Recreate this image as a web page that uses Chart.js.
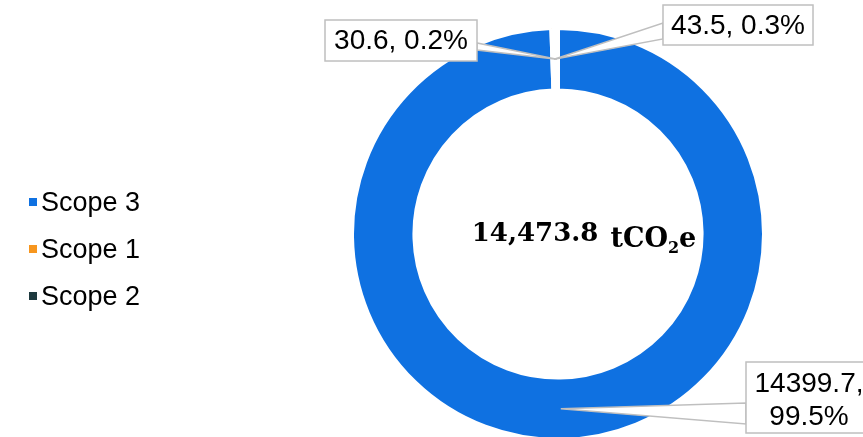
<!DOCTYPE html>
<html>
<head>
<meta charset="utf-8">
<script src="https://cdn.jsdelivr.net/npm/chart.js@4"></script>
<style>
html, body { margin: 0; padding: 0; background: #fff; overflow: hidden; }
#contenedor { position: relative; width: 863px; height: 437px; overflow: hidden; }
#lienzo { position: absolute; left: 0; top: 0; width: 863px; height: 442px; }
#leyenda { position: absolute; left: 0; top: 0; font-family: 'Liberation Sans', Arial, sans-serif; font-size: 27px; color: #000; }
.item { position: absolute; left: 29px; height: 30px; line-height: 30px; display: flex; align-items: center; white-space: nowrap; }
.item .cuadro { width: 8px; height: 8px; margin-right: 4px; }
</style>
</head>
<body>
<div id="contenedor">
  <div id="lienzo"><canvas id="grafico_Emisiones"></canvas></div>
  <div id="leyenda"></div>
</div>
<script>
// Datos de emisiones (tCO2e)
const categorias = ['Scope 3', 'Scope 1', 'Scope 2'];
const valores = [14399.7, 43.5, 30.6];
const colores = ['#0F71E1', '#F7961E', '#1E3A3F'];

// Cajas de las etiquetas y el borde donde llega la línea guía
const cajasEtiqueta = [
    {x: 746, y: 362, w: 126, h: 71, bordeX: 746, y1: 403, y2: 424},
    {x: 663, y: 5, w: 150, h: 40, bordeX: 663, y1: 23, y2: 39},
    {x: 325, y: 20, w: 152, h: 41, bordeX: 477, y1: 43, y2: 50}
];

const total = valores.reduce((a, b) => a + b, 0);

// Leyenda en HTML
const leyenda = document.getElementById('leyenda');
const centrosLeyenda = [202, 249, 296];
categorias.forEach((cat, i) => {
    const item = document.createElement('div');
    item.className = 'item';
    item.style.top = (centrosLeyenda[i] - 15) + 'px';
    const cuadro = document.createElement('span');
    cuadro.className = 'cuadro';
    cuadro.style.background = colores[i];
    item.appendChild(cuadro);
    item.appendChild(document.createTextNode(cat));
    leyenda.appendChild(item);
});

// Plugin: etiquetas con línea guía y texto central
const etiquetasPlugin = {
    id: 'etiquetas',
    afterDraw(chart) {
        const ctx = chart.ctx;
        const arcos = chart.getDatasetMeta(0).data;
        ctx.save();
        arcos.forEach((arco, i) => {
            const p = arco.tooltipPosition();
            const c = cajasEtiqueta[i];
            // línea guía en forma de cuña
            ctx.beginPath();
            ctx.moveTo(p.x, p.y);
            ctx.lineTo(c.bordeX, c.y1);
            ctx.lineTo(c.bordeX, c.y2);
            ctx.closePath();
            ctx.fillStyle = '#fff';
            ctx.fill();
            ctx.strokeStyle = '#BFBFBF';
            ctx.lineWidth = 1.5;
            ctx.stroke();
            // caja
            ctx.fillStyle = '#fff';
            ctx.fillRect(c.x, c.y, c.w, c.h);
            ctx.strokeRect(c.x, c.y, c.w, c.h);
            // texto
            const pct = (valores[i] / total * 100).toFixed(1) + '%';
            ctx.fillStyle = '#000';
            ctx.font = '28px "Liberation Sans", Arial, sans-serif';
            ctx.textAlign = 'center';
            ctx.textBaseline = 'middle';
            const cx = c.x + c.w / 2;
            if (i === 0) {
                ctx.fillText(valores[i] + ',', cx, c.y + 22);
                ctx.fillText(pct, cx, c.y + 55);
            } else {
                ctx.fillText(valores[i] + ', ' + pct, cx, c.y + c.h / 2 + 1);
            }
        });

        // Total en el centro
        const textoTotal = total.toLocaleString('en-US', {minimumFractionDigits: 1, maximumFractionDigits: 1});
        const fNum = 'bold 26px "DejaVu Serif", serif';
        const fUni = 'bold 27px "DejaVu Serif", serif';
        const fSub = 'bold 16px "DejaVu Serif", serif';
        ctx.textAlign = 'left';
        ctx.textBaseline = 'alphabetic';
        ctx.font = fNum; const wNum = ctx.measureText(textoTotal).width;
        ctx.font = fUni; const wTCO = ctx.measureText('tCO').width; const wE = ctx.measureText('e').width;
        ctx.font = fSub; const wSub = ctx.measureText('2').width;
        const espacio = 12;
        const anchoTotal = wNum + espacio + wTCO + wSub + wE;
        let x = 584 - anchoTotal / 2;
        ctx.fillStyle = '#000';
        ctx.font = fNum; ctx.fillText(textoTotal, x, 241); x += wNum + espacio;
        ctx.font = fUni; ctx.fillText('tCO', x, 247); x += wTCO;
        ctx.font = fSub; ctx.fillText('2', x, 253); x += wSub;
        ctx.font = fUni; ctx.fillText('e', x, 247);
        ctx.restore();
    }
};

const ctx = document.getElementById('grafico_Emisiones').getContext('2d');
const chart = new Chart(ctx, {
    type: 'doughnut',
    data: {
        labels: categorias,
        datasets: [{
            data: valores,
            backgroundColor: colores,
            borderColor: '#fff',
            borderWidth: 4
        }]
    },
    options: {
        responsive: true,
        maintainAspectRatio: false,
        animation: false,
        cutout: '69.7%',
        layout: {padding: {top: 26, bottom: 0, left: 350, right: 97}},
        plugins: {legend: {display: false}, tooltip: {enabled: false}}
    },
    plugins: [etiquetasPlugin]
});
</script>
</body>
</html>
